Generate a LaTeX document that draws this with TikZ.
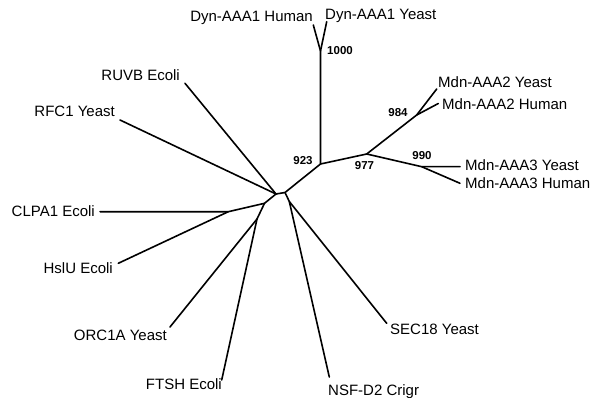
\documentclass[tikz,border=0pt]{standalone}
\usepackage{fontspec}
\setmainfont{Liberation Sans}
\usepackage{tikz}
\usetikzlibrary{positioning,calc}
\definecolor{cInk}{HTML}{000000}
\tikzset{
  br/.style={line width=1.6pt,color=cInk,line cap=round,line join=round},
  leaf/.style={font=\fontsize{15}{17}\selectfont,text=cInk,inner sep=0pt},
  boot/.style={font=\fontsize{11.5}{13}\selectfont\bfseries,text=cInk,inner sep=0pt},
}

\begin{document}
\begin{tikzpicture}[x=1pt,y=-1pt]
  \useasboundingbox (0,0) rectangle (602,398);
  % inner nodes of the tree (pixel grid, y down)
  \coordinate (nA)    at (276,194);
  \coordinate (nB)    at (285,192.5);
  \coordinate (n923)  at (320.5,164);
  \coordinate (n1000) at (320.5,51);
  \coordinate (n977)  at (366.7,154);
  \coordinate (n984)  at (416.7,115);
  \coordinate (n990)  at (421.7,166.7);
  \coordinate (nG)    at (289.3,201.5);
  \coordinate (nC)    at (264.5,203.3);
  \coordinate (nD)    at (228.3,211.7);
  \coordinate (nE)    at (257,219);
  % branch tips
  \coordinate (tDynH)  at (313.3,25);
  \coordinate (tDynY)  at (326.7,21.7);
  \coordinate (tMdn2Y) at (436.7,89);
  \coordinate (tMdn2H) at (438.3,103.5);
  \coordinate (tMdn3Y) at (460,166.7);
  \coordinate (tMdn3H) at (460,183.3);
  \coordinate (tSec)   at (386.7,323.3);
  \coordinate (tNsf)   at (329.3,377);
  \coordinate (tFtsh)  at (221.7,380);
  \coordinate (tOrc)   at (170,327);
  \coordinate (tHslu)  at (118.3,263.3);
  \coordinate (tClpa)  at (100,211.7);
  \coordinate (tRfc)   at (120,120);
  \coordinate (tRuvb)  at (185,83.3);

  % leaf labels
  \node[leaf,anchor=base east] (lDynH)  at (313,21.7) {Dyn-AAA1 Human};
  \node[leaf,anchor=base west] (lDynY)  at (325,20)   {Dyn-AAA1 Yeast};
  \node[leaf,anchor=base west] (lMdn2Y) at (438,88)   {Mdn-AAA2 Yeast};
  \node[leaf,anchor=base west] (lMdn2H) at (442,110)  {Mdn-AAA2 Human};
  \node[leaf,anchor=base west] (lMdn3Y) at (465,171)  {Mdn-AAA3 Yeast};
  \node[leaf,anchor=base west] (lMdn3H) at (465,189)  {Mdn-AAA3 Human};
  \node[leaf,anchor=base west] (lSec)   at (390,334)  {SEC18 Yeast};
  \node[leaf,anchor=base west] (lNsf)   at (328,395)  {NSF-D2 Crigr};
  \node[leaf,anchor=base east] (lFtsh)  at (222,389)  {FTSH Ecoli};
  \node[leaf,anchor=base east] (lOrc)   at (167,340)  {ORC1A Yeast};
  \node[leaf,anchor=base east] (lHslu)  at (113,273)  {HslU Ecoli};
  \node[leaf,anchor=base east] (lClpa)  at (95,216)   {CLPA1 Ecoli};
  \node[leaf,anchor=base east] (lRfc)   at (115,117)  {RFC1 Yeast};
  \node[leaf,anchor=base east] (lRuvb)  at (180,81)   {RUVB Ecoli};

  % bootstrap values
  \node[boot] (b1000) at (340,51)    {1000};
  \node[boot] (b923)  at (303,161)   {923};
  \node[boot] (b977)  at (364.5,166) {977};
  \node[boot] (b984)  at (398,113)   {984};
  \node[boot] (b990)  at (422,156)   {990};

  % branches
  \draw[br] (nA) -- (nB) -- (n923) -- (n1000) -- (tDynH);
  \draw[br] (n1000) -- (tDynY);
  \draw[br] (n923) -- (n977) -- (n984) -- (tMdn2Y);
  \draw[br] (n984) -- (tMdn2H);
  \draw[br] (n977) -- (n990) -- (tMdn3Y);
  \draw[br] (n990) -- (tMdn3H);
  \draw[br] (nB) -- (nG) -- (tSec);
  \draw[br] (nG) -- (tNsf);
  \draw[br] (nA) -- (nC) -- (nD) -- (tClpa);
  \draw[br] (nD) -- (tHslu);
  \draw[br] (nC) -- (nE) -- (tOrc);
  \draw[br] (nE) -- (tFtsh);
  \draw[br] (nA) -- (tRfc);
  \draw[br] (nA) -- (tRuvb);
\end{tikzpicture}
\end{document}
